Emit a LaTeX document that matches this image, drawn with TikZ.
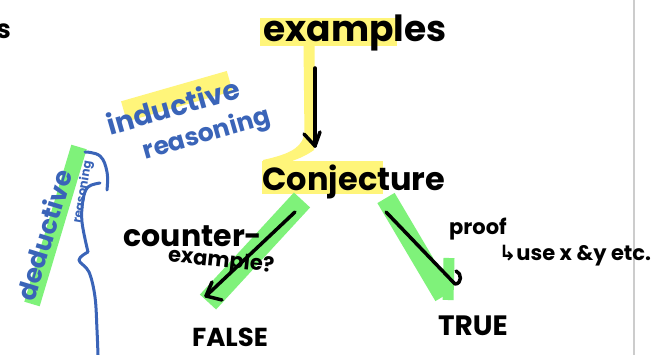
\documentclass[tikz,border=0pt]{standalone}
\usepackage{fontspec}
\setmainfont{Poppins}
\newfontfamily\symfont{DejaVu Sans}
\usetikzlibrary{arrows.meta}
\definecolor{hlyellow}{HTML}{FFF57A}
\definecolor{hlgreen}{HTML}{7FF27A}
\definecolor{inkblue}{HTML}{3A64B8}
\definecolor{rulegray}{HTML}{CCCCCC}
\tikzset{
  ink/.style={text=black, inner sep=1pt, font=\bfseries},
  blueink/.style={text=inkblue, inner sep=1pt},
  pen/.style={draw=black, line width=3.5pt, line cap=round, line join=round},
  bluepen/.style={draw=inkblue, line width=3pt, line cap=round, line join=round},
  ylw/.style={draw=hlyellow, line cap=butt},
  grn/.style={draw=hlgreen, line cap=butt},
}
\begin{document}
\begin{tikzpicture}[x=1pt,y=-1pt]
\useasboundingbox (0,0) rectangle (668,355);
\fill[white] (0,0) rectangle (668,355);
% page rule
\draw[rulegray, line width=2pt] (634,0) -- (634,355);
% highlights
\fill[hlyellow] (260,18) rectangle (397,46);
\fill[hlyellow] (262,161) rectangle (383,194);
\draw[ylw, line width=11pt] (309,44) -- (310,138);
\fill[hlyellow] (304,136) -- (316,136) -- (314,150) .. controls (300,160) and (285,163) .. (265,170) -- (263,160) .. controls (285,155) and (300,150) .. (304,136) -- cycle;
\fill[hlyellow, rotate around={16:(176,97)}] (122,86) rectangle (232,107);
\draw[grn, line width=16pt] (79,147) -- (32,304);
\draw[grn, line width=22pt] (302,200) -- (208,302);
\draw[grn, line width=20pt] (386,198) -- (444,296);
\draw[grn, line width=11pt] (449,258) -- (448,300);
% stray letter at the cut edge
\node[ink, font=\bfseries\fontsize{26}{26}\selectfont, anchor=east] (edge) at (12,31) {s};
% main nodes
\node[ink, font=\bfseries\fontsize{36}{36}\selectfont] (ex) at (355,33) {examples};
\node[ink, font=\bfseries\fontsize{32}{32}\selectfont] (conj) at (354,182) {Conjecture};
\node[ink, font=\bfseries\fontsize{30}{30}\selectfont] (counter) at (193,236) {counter-};
\node[ink, font=\bfseries\fontsize{21}{21}\selectfont, rotate=-6] (cex) at (221,262) {example?};
\node[ink, font=\bfseries\fontsize{26}{26}\selectfont] (false) at (230,337) {FALSE};
\node[ink, font=\bfseries\fontsize{21}{21}\selectfont] (proof) at (478,229) {proof};
\node[ink, font=\bfseries\fontsize{21}{21}\selectfont] (use) at (575,256) {{\symfont ↳}use x \&y etc.};
\node[ink, font=\bfseries\fontsize{28}{28}\selectfont] (true) at (473,326) {TRUE};
\node[blueink, font=\bfseries\fontsize{28}{28}\selectfont, rotate=16] (ind) at (173,106) {inductive};
\node[blueink, font=\bfseries\fontsize{25}{25}\selectfont, rotate=16] (reas) at (207,135) {reasoning};
\node[blueink, font=\bfseries\fontsize{26}{26}\selectfont, rotate=73] (ded) at (44,235) {deductive};
\node[blueink, font=\bfseries\fontsize{12}{12}\selectfont, rotate=80] (dreas) at (83,192) {reasoning};
% connectors
\coordinate (a1) at (315,68);
\coordinate (a2) at (315,146);
\draw[pen] (a1) -- (a2);
\draw[pen] (304,134) -- (a2) -- (320,132);
\coordinate (c1) at (295,212);
\coordinate (c2) at (206,296);
\draw[pen] (c1) -- (c2);
\draw[pen] (206,296) -- (222,300);
\draw[pen] (206,296) -- (212,282);
\coordinate (t1) at (386,212);
\coordinate (t2) at (455,284);
\draw[pen] (t1) -- (t2) .. controls (462,284) and (462,273) .. (456,271);
% blue brace
\draw[bluepen] plot[smooth, tension=0.7] coordinates {(85,152) (100,156) (107,172) (107,190)};
\draw[bluepen] plot[smooth, tension=0.6] coordinates {(100,183) (88,187) (83,200) (82,222) (88,252)};
\draw[bluepen] plot[smooth, tension=0.6] coordinates {(88,252) (79,260) (89,272) (95,297) (97,330) (98,355)};
\end{tikzpicture}
\end{document}
